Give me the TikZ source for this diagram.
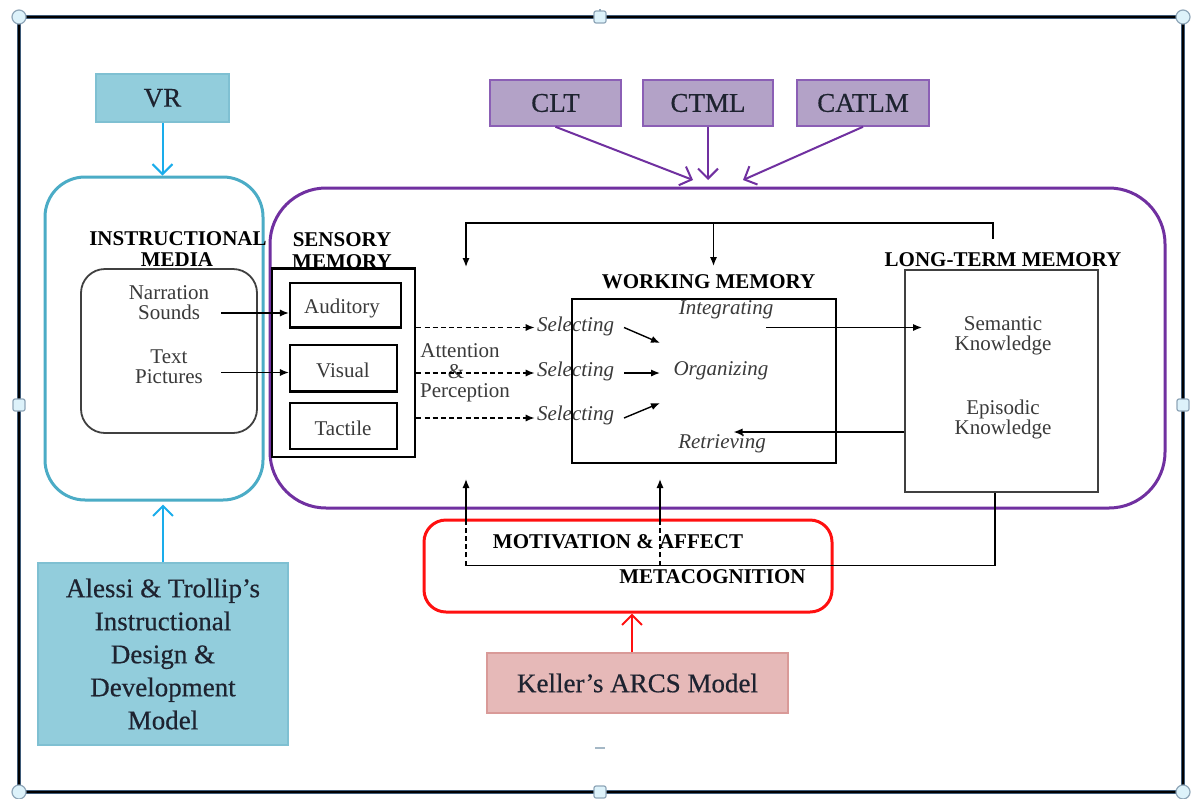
\documentclass[tikz,border=0pt]{standalone}
\usepackage{fontspec}
\setmainfont{Liberation Serif}
\newfontfamily\labelfont{Liberation Serif}[FakeBold=0.5]
\usetikzlibrary{arrows.meta}

\definecolor{framerim}{HTML}{3E5A78}
\definecolor{handlefill}{HTML}{DDF2FA}
\definecolor{handleedge}{HTML}{8FA6B8}
\definecolor{cyanline}{HTML}{4BACC6}
\definecolor{cyanarrow}{HTML}{1AADEB}
\definecolor{bluefill}{HTML}{92CDDC}
\definecolor{blueedge}{HTML}{7FC0D2}
\definecolor{cogpurple}{HTML}{7030A0}
\definecolor{lavfill}{HTML}{B3A2C7}
\definecolor{lavedge}{HTML}{8B5FB5}
\definecolor{pinkfill}{HTML}{E6B9B8}
\definecolor{pinkedge}{HTML}{D99A98}
\definecolor{metared}{HTML}{FF1010}
\definecolor{labelink}{HTML}{1E2330}
\definecolor{bodyink}{HTML}{3A3A3A}
\definecolor{boxgray}{HTML}{404040}

\tikzset{
  corner/.style={circle, draw=handleedge, fill=handlefill, minimum size=7pt, inner sep=0pt, line width=0.6pt},
  sidehandle/.style={rectangle, rounded corners=1pt, draw=handleedge, fill=handlefill, minimum size=6pt, inner sep=0pt, line width=0.6pt},
  lbl/.style={font=\labelfont\fontsize{13.5}{16.5}\selectfont, text=labelink, align=center, inner sep=0pt},
  bluebox/.style={lbl, draw=blueedge, fill=bluefill, line width=0.6pt},
  purplebox/.style={lbl, draw=lavedge, fill=lavfill, line width=0.8pt},
  pinkbox/.style={lbl, draw=pinkedge, fill=pinkfill, line width=0.6pt},
  heading/.style={font=\bfseries\fontsize{10.5}{10.5}\selectfont, text=black, inner sep=0pt, align=center},
  body/.style={font=\fontsize{10.5}{10}\selectfont, text=bodyink, inner sep=0pt, align=center},
  ibody/.style={body, font=\itshape\fontsize{10.5}{10}\selectfont},
  memrect/.style={draw=black, line width=1.1pt, inner sep=0pt},
  arr/.style={-{Latex[length=4.5pt,width=3.6pt]}, line width=0.7pt, draw=black},
  dasharr/.style={arr, dash pattern=on 2.5pt off 1.6pt},
  cyanarr/.style={-{Straight Barb[length=5pt,width=10pt]}, line width=1pt, draw=cyanarrow},
  purparr/.style={-{Straight Barb[length=5pt,width=10pt]}, line width=1pt, draw=cogpurple},
  redarr/.style={-{Straight Barb[length=5pt,width=10pt]}, line width=1pt, draw=metared},
}

\begin{document}
\begin{tikzpicture}[x=0.5pt,y=-0.5pt]
\useasboundingbox (0,0) rectangle (1198,798);
\fill[white] (0,0) rectangle (1198,798);

% ---------- outer frame with its handles ----------
\draw[line width=2.4pt, framerim] (19,17) rectangle (1183,792);
\draw[line width=1.3pt, black] (19,17) rectangle (1183,792);
\draw[handleedge, line width=0.8pt] (600,9) -- (600,12);
\node[corner] (hTL) at (19,17) {};
\node[corner] (hTR) at (1183,17) {};
\node[corner] (hBL) at (19,792) {};
\node[corner] (hBR) at (1183,792) {};
\node[sidehandle] (hT) at (600,17) {};
\node[sidehandle] (hB) at (600,792) {};
\node[sidehandle] (hL) at (19,405) {};
\node[sidehandle] (hR) at (1183,405) {};
\draw[handleedge!80, line width=1pt] (595,748) -- (605,748);

% ---------- instructional media ----------
\node[draw=cyanline, line width=1.5pt, rounded corners=20pt,
      minimum width=109pt, minimum height=161.5pt] (media) at (154,338.5) {};
\node[heading] (mediahead) at (178,239) {INSTRUCTIONAL};
\node[heading] (mediahead2) at (177,260) {MEDIA};
\node[draw=boxgray, line width=0.9pt, rounded corners=12pt,
      minimum width=88pt, minimum height=82pt] (source) at (169,351) {};
\node[body] (sounds) at (169,303) {Narration\\Sounds};
\node[body] (pictures) at (169,366.5) {Text\\Pictures};

\node[bluebox, minimum width=66.5pt, minimum height=24pt] (vr) at (162.5,98) {VR};
\draw[cyanarr] (vr.south) -- (vr.south |- media.north);

\node[bluebox, minimum width=125pt, minimum height=91pt] (alessi) at (163,654)
  {Alessi \& Trollip’s\\Instructional\\Design \&\\Development\\Model};
\draw[cyanarr] (alessi.north) -- ([yshift=-1.5pt]alessi.north |- media.south);

% ---------- cognitive model frame and theories ----------
\node[draw=cogpurple, line width=1.5pt, rounded corners=28pt,
      minimum width=447.5pt, minimum height=160pt] (cog) at (717.5,348) {};

\node[purplebox, minimum width=65.5pt, minimum height=23pt] (clt) at (555.5,103) {CLT};
\node[purplebox, minimum width=65pt, minimum height=23pt] (ctml) at (708,103) {CTML};
\node[purplebox, minimum width=66pt, minimum height=23pt] (catlm) at (863,103) {CATLM};
\coordinate (pin1) at (693,180);
\coordinate (pin2) at (708,180);
\coordinate (pin3) at (743,180);
\draw[purparr] (clt.south) -- (pin1);
\draw[purparr] (ctml.south) -- (pin2);
\draw[purparr] (catlm.south) -- (pin3);

% ---------- sensory memory ----------
\node[heading, font=\bfseries\fontsize{10.5}{11}\selectfont] (sensehead) at (342,250.5) {SENSORY\\MEMORY};
\node[memrect, line width=1.3pt, minimum width=71.5pt, minimum height=94.2pt] (sensory) at (343.5,362.8) {};
\node[memrect, minimum width=55.5pt, minimum height=22.2pt] (auditory) at (345.5,305.3) {};
\node[memrect, minimum width=53.5pt, minimum height=23.2pt] (visual) at (343.5,368.3) {};
\node[memrect, minimum width=53.5pt, minimum height=23pt] (tactile) at (343.5,425.6) {};
\node[body] (audtext) at (342,308) {Auditory};
\node[body] (vistext) at (343,370) {Visual};
\node[body] (tactext) at (343,428) {Tactile};

\coordinate (ns) at (221,313);
\coordinate (tp) at (221,372.5);
\draw[arr] (ns) -- (ns -| auditory.west);
\draw[arr] (tp) -- (tp -| visual.west);

% ---------- attention & perception ----------
\node[body] (attn) at (460,351) {Attention};
\node[body] (amp) at (456,372) {\&};
\node[body] (perc) at (465,393) {Perception};

\node[ibody, inner xsep=1pt] (sel1) at (575.5,326) {Selecting};
\node[ibody, inner xsep=1pt] (sel2) at (575.5,371) {Selecting};
\node[ibody, inner xsep=1pt] (sel3) at (575.5,415) {Selecting};
\coordinate (d1) at (sel1.west |- 0,327.5);
\coordinate (d2) at (sel2.west |- 0,373);
\coordinate (d3) at (sel3.west |- 0,418);
\draw[dasharr] (sensory.east |- d1) -- (d1);
\draw[dasharr] (sensory.east |- d2) -- (d2);
\draw[dasharr] (sensory.east |- d3) -- (d3);

% ---------- working memory ----------
\node[heading] (wmhead) at (708.5,282) {WORKING MEMORY};
\node[memrect, line width=1.1pt, minimum width=132pt, minimum height=82pt] (wm) at (704,381) {};
\node[ibody] (integ) at (726,310) {Integrating};
\node[ibody] (organ) at (721,371) {Organizing};
\node[ibody] (retr) at (722,444) {Retrieving};
\coordinate (s1) at (624,327.5);
\coordinate (s2) at (624,373);
\coordinate (s3) at (624,418);
\coordinate (o1) at (660,343);
\coordinate (o2) at (660,373);
\coordinate (o3) at (660,403);
\draw[arr] (s1) -- (o1);
\draw[arr] (s2) -- (o2);
\draw[arr] (s3) -- (o3);

% ---------- long-term memory ----------
\node[heading] (ltmhead) at (1003,260) {LONG-TERM MEMORY};
\node[draw=boxgray, line width=0.9pt, minimum width=96.5pt, minimum height=111pt] (ltm) at (1001.5,381) {};
\node[body] (semantic) at (1003,336) {Semantic\\Knowledge};
\node[body] (episodic) at (1003,419.5) {Episodic\\Knowledge};

\coordinate (intout) at (766,327.5);
\coordinate (semin) at (922,327.5);
\draw[arr] (intout) -- (semin);
\coordinate (retrin) at (733.5,432);
\draw[arr] (ltm.west |- retrin) -- (retrin);

% feedback from long-term memory to sensory and working memory
\coordinate (fbstart) at (993,239);
\coordinate (fbcorner) at (993,223);
\coordinate (fbleft) at (466,223);
\coordinate (fbmid) at (713.5,223);
\coordinate (sensin) at (466,267);
\coordinate (wmin) at (713.5,266);
\draw[arr] (fbstart) -- (fbcorner) -- (fbleft) -- (sensin);
\draw[arr] (fbmid) -- (wmin);

% ---------- motivation and metacognition ----------
\node[draw=metared, line width=1.5pt, rounded corners=11pt,
      minimum width=204pt, minimum height=46pt] (meta) at (628,566) {};
\node[heading] (motiv) at (618,541.5) {MOTIVATION \& AFFECT};
\node[heading] (metacog) at (712.5,577) {METACOGNITION};

\coordinate (loopR) at (995,565.5);
\coordinate (loopL) at (466,565.5);
\coordinate (loopM) at (660,565.5);
\coordinate (dashL) at (466,521.5);
\coordinate (dashM) at (660,521.5);
\coordinate (upL) at (466,479);
\coordinate (upM) at (660,479);
\draw[line width=0.7pt] (ltm.south -| loopR) -- (loopR) -- (loopL);
\draw[line width=0.7pt, dash pattern=on 2.5pt off 1.6pt] (loopL) -- (dashL);
\draw[line width=0.7pt, dash pattern=on 2.5pt off 1.6pt] (loopM) -- (dashM);
\draw[arr] (dashL) -- (upL);
\draw[arr] (dashM) -- (upM);

\node[pinkbox, minimum width=150.5pt, minimum height=30pt] (keller) at (637.5,683) {Keller’s ARCS Model};
\draw[redarr] ([xshift=-2.75pt]keller.north) -- ([xshift=-2.75pt]keller.north |- meta.south);

\end{tikzpicture}
\end{document}
